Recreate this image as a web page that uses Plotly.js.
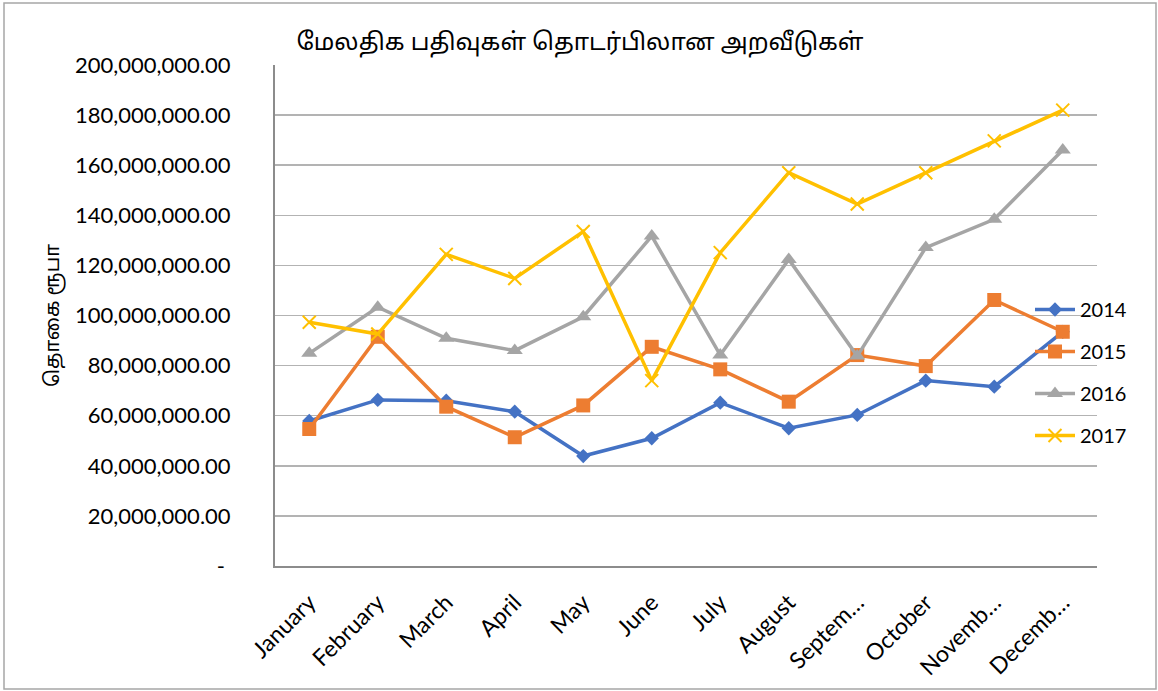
<!DOCTYPE html>
<html>
<head>
<meta charset="utf-8">
<script src="https://cdn.plot.ly/plotly-3.0.1.min.js"></script>
<style>
  html, body { margin: 0; padding: 0; background: #ffffff; }
  #chart { width: 1158px; height: 691px; }
</style>
</head>
<body>
<div id="chart"></div>
<script>
// ---- data ----
var months = ["January", "February", "March", "April", "May", "June", "July", "August", "September", "October", "November", "December"];
var monthLabels = ["January", "February", "March", "April", "May", "June", "July", "August", "Septem…", "October", "Novemb…", "Decemb…"];
var years = ["2014", "2015", "2016", "2017"];
var v2014 = [57.9, 66.3, 66.0, 61.6, 43.9, 51.0, 65.2, 55.0, 60.3, 74.0, 71.6, 93.5].map(function (v) { return v * 1e6; });
var v2015 = [54.7, 91.5, 63.6, 51.4, 64.1, 87.5, 78.5, 65.6, 84.2, 79.8, 106.2, 93.5].map(function (v) { return v * 1e6; });
var v2016 = [84.9, 103.3, 90.9, 86.0, 99.5, 131.7, 84.2, 122.4, 83.8, 127.1, 138.4, 166.1].map(function (v) { return v * 1e6; });
var v2017 = [97.3, 92.6, 124.4, 114.8, 133.5, 74.0, 125.1, 157.0, 144.5, 157.0, 169.7, 182.0].map(function (v) { return v * 1e6; });
var yTickVals = [0, 20e6, 40e6, 60e6, 80e6, 100e6, 120e6, 140e6, 160e6, 180e6, 200e6];
var yTickText = ["-\u00a0", "20,000,000.00", "40,000,000.00", "60,000,000.00", "80,000,000.00", "100,000,000.00",
                 "120,000,000.00", "140,000,000.00", "160,000,000.00", "180,000,000.00", "200,000,000.00"];
var titleText = "மேலதிக பதிவுகள் தொடர்பிலான அறவீடுகள்";
var yTitleText = "தொகை ரூபா";

var colors = ["#4472C4", "#ED7D31", "#A5A5A5", "#FFC000"];
var symbols = ["diamond", "square", "triangle-up", "x-thin"];
var sizes = [11, 14, 14, 13];
var series = [v2014, v2015, v2016, v2017];

var baseFont = "Lato, 'Open Sans', 'Liberation Sans', sans-serif";
var tamilFont = "'Noto Sans Tamil', 'Lohit Tamil', 'Noto Sans', 'DejaVu Sans', sans-serif";

var traces = series.map(function (vals, i) {
  var m = { symbol: symbols[i], size: sizes[i], color: colors[i] };
  if (symbols[i] === "x-thin") { m.line = { color: colors[i], width: 2 }; }
  return {
    type: "scatter",
    mode: "lines+markers",
    name: years[i],
    legendgroup: years[i],
    x: months,
    y: vals,
    line: { color: colors[i], width: 3.5 },
    marker: m,
    hoverinfo: "x+y+name"
  };
});

var ml = 275, mr = 61, mt = 65, mb = 125;
var pw = 1158 - ml - mr, ph = 691 - mt - mb;
function px(x) { return (x - ml) / pw; }
function py(y) { return (691 - mb - y) / ph; }

var layout = {
  width: 1158,
  height: 691,
  margin: { l: ml, r: mr, t: mt, b: mb, pad: 0 },
  paper_bgcolor: "#ffffff",
  plot_bgcolor: "#ffffff",
  font: { family: baseFont, color: "#000000", size: 20 },
  title: {
    text: titleText,
    font: { family: tamilFont, size: 24, color: "#000000" },
    x: 580 / 1158, xref: "container", xanchor: "center",
    y: 1 - 42 / 691, yref: "container", yanchor: "middle"
  },
  xaxis: {
    type: "category",
    categoryorder: "array",
    categoryarray: months,
    tickvals: months,
    ticktext: monthLabels,
    tickangle: -45,
    tickfont: { family: baseFont, size: 23, color: "#000000" },
    ticks: "",
    ticklabelstandoff: 12,
    showgrid: false,
    showline: true,
    linecolor: "#8c8c8c",
    linewidth: 2,
    zeroline: false,
    range: [-0.5, 11.5],
    fixedrange: true
  },
  yaxis: {
    range: [0, 200e6],
    tickvals: yTickVals,
    ticktext: yTickText,
    tickfont: { family: baseFont, size: 22, color: "#000000" },
    ticks: "",
    ticklabelstandoff: 38,
    showgrid: true,
    gridcolor: "#b3b3b3",
    gridwidth: 1.5,
    showline: true,
    linecolor: "#8c8c8c",
    linewidth: 2,
    zeroline: false,
    title: {
      text: yTitleText,
      font: { family: tamilFont, size: 20, color: "#000000" },
      standoff: 10
    },
    automargin: false,
    fixedrange: true
  },
  legend: {
    x: px(1030), xanchor: "left",
    y: py(290), yanchor: "top",
    bgcolor: "rgba(0,0,0,0)",
    borderwidth: 0,
    font: { family: baseFont, size: 20, color: "#000000" },
    traceorder: "grouped",
    tracegroupgap: 13,
    itemwidth: 40
  },
  shapes: [
    {
      type: "rect", xref: "paper", yref: "paper",
      x0: px(4), x1: px(1156), y0: py(689), y1: py(3),
      line: { color: "#a6a6a6", width: 1.5 },
      fillcolor: "rgba(0,0,0,0)",
      layer: "below"
    }
  ],
  showlegend: true
};

Plotly.newPlot("chart", traces, layout, { displayModeBar: false, staticPlot: true });
</script>
</body>
</html>
